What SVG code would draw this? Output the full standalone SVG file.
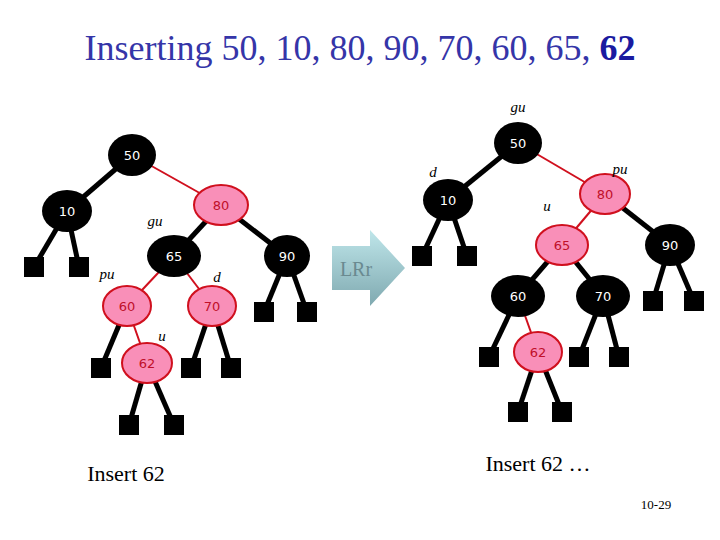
<svg xmlns="http://www.w3.org/2000/svg" width="720" height="540" viewBox="0 0 720 540">
<style>
.b{fill:#000}
.r{fill:#f98fb8;stroke:#d0101e;stroke-width:2}
.nt{font-family:"DejaVu Sans",sans-serif;font-size:13px;text-anchor:middle;dominant-baseline:central}
.bt{fill:#fff}.rt{fill:#c0102a}
.k{stroke:#000;stroke-width:5}
.e{stroke:#d0101e;stroke-width:2}
.lf{fill:#000}
.lb{font-family:"Liberation Serif",serif;font-style:italic;font-size:15px;text-anchor:middle}
.cap{font-family:"Liberation Serif",serif;font-size:22px;text-anchor:middle}
</style>
<defs><linearGradient id="ag" x1="0" y1="0" x2="0" y2="1"><stop offset="0" stop-color="#bfe6ea"/><stop offset="1" stop-color="#7fa9b0"/></linearGradient></defs>
<text x="360" y="60" font-family="Liberation Serif,serif" font-size="36" text-anchor="middle" fill="#3535a8">Inserting 50, 10, 80, 90, 70, 60, 65, <tspan font-weight="bold" fill="#1a1aa0">62</tspan></text>
<g id="connectors">
<line class="k" x1="132" y1="155" x2="67" y2="211"/><line class="e" x1="132" y1="155" x2="221" y2="205"/>
<line class="k" x1="67" y1="211" x2="34" y2="267"/><line class="k" x1="67" y1="211" x2="79" y2="267"/>
<line class="k" x1="221" y1="205" x2="174" y2="256"/><line class="k" x1="221" y1="205" x2="287" y2="256"/>
<line class="e" x1="174" y1="256" x2="127" y2="306"/><line class="e" x1="174" y1="256" x2="212" y2="306"/>
<line class="k" x1="287" y1="256" x2="264" y2="312"/><line class="k" x1="287" y1="256" x2="307" y2="312"/>
<line class="k" x1="127" y1="306" x2="101" y2="368"/><line class="e" x1="127" y1="306" x2="147" y2="363"/>
<line class="k" x1="212" y1="306" x2="191" y2="368"/><line class="k" x1="212" y1="306" x2="231" y2="368"/>
<line class="k" x1="147" y1="363" x2="129" y2="425"/><line class="k" x1="147" y1="363" x2="174" y2="425"/>
<line class="k" x1="518" y1="143" x2="448" y2="200"/><line class="e" x1="518" y1="143" x2="605" y2="194"/>
<line class="k" x1="448" y1="200" x2="422" y2="256"/><line class="k" x1="448" y1="200" x2="467" y2="256"/>
<line class="e" x1="605" y1="194" x2="562" y2="245"/><line class="k" x1="605" y1="194" x2="670" y2="245"/>
<line class="k" x1="562" y1="245" x2="518" y2="296"/><line class="k" x1="562" y1="245" x2="603" y2="296"/>
<line class="k" x1="670" y1="245" x2="653" y2="301"/><line class="k" x1="670" y1="245" x2="694" y2="301"/>
<line class="k" x1="518" y1="296" x2="489" y2="357"/><line class="e" x1="518" y1="296" x2="538" y2="352"/>
<line class="k" x1="603" y1="296" x2="579" y2="357"/><line class="k" x1="603" y1="296" x2="619" y2="357"/>
<line class="k" x1="538" y1="352" x2="518" y2="412"/><line class="k" x1="538" y1="352" x2="562" y2="412"/>
</g>
<g id="leaves">
<rect class="lf" x="24" y="257" width="20" height="20"/><rect class="lf" x="69" y="257" width="20" height="20"/>
<rect class="lf" x="254" y="302" width="20" height="20"/><rect class="lf" x="297" y="302" width="20" height="20"/>
<rect class="lf" x="91" y="358" width="20" height="20"/><rect class="lf" x="181" y="358" width="20" height="20"/><rect class="lf" x="221" y="358" width="20" height="20"/>
<rect class="lf" x="119" y="415" width="20" height="20"/><rect class="lf" x="164" y="415" width="20" height="20"/>
<rect class="lf" x="412" y="246" width="20" height="20"/><rect class="lf" x="457" y="246" width="20" height="20"/>
<rect class="lf" x="643" y="291" width="20" height="20"/><rect class="lf" x="684" y="291" width="20" height="20"/>
<rect class="lf" x="479" y="347" width="20" height="20"/><rect class="lf" x="569" y="347" width="20" height="20"/><rect class="lf" x="609" y="347" width="20" height="20"/>
<rect class="lf" x="508" y="402" width="20" height="20"/><rect class="lf" x="552" y="402" width="20" height="20"/>
</g>
<g id="L50"><ellipse class="b" cx="132" cy="155" rx="24" ry="21"/><text class="nt bt" x="132" y="155">50</text></g>
<g id="L10"><ellipse class="b" cx="67" cy="211" rx="25" ry="21"/><text class="nt bt" x="67" y="211">10</text></g>
<g id="L80"><ellipse class="r" cx="221" cy="205" rx="27" ry="20"/><text class="nt rt" x="221" y="205">80</text></g>
<g id="L65"><ellipse class="b" cx="174" cy="256" rx="27" ry="21"/><text class="nt bt" x="174" y="256">65</text></g>
<g id="L90"><ellipse class="b" cx="287" cy="256" rx="23" ry="21"/><text class="nt bt" x="287" y="256">90</text></g>
<g id="L60"><ellipse class="r" cx="127" cy="306" rx="24" ry="20"/><text class="nt rt" x="127" y="306">60</text></g>
<g id="L70"><ellipse class="r" cx="212" cy="306" rx="24" ry="20"/><text class="nt rt" x="212" y="306">70</text></g>
<g id="L62"><ellipse class="r" cx="147" cy="363" rx="25" ry="20"/><text class="nt rt" x="147" y="363">62</text></g>
<g id="R50"><ellipse class="b" cx="518" cy="143" rx="24" ry="21"/><text class="nt bt" x="518" y="143">50</text></g>
<g id="R10"><ellipse class="b" cx="448" cy="200" rx="25" ry="21"/><text class="nt bt" x="448" y="200">10</text></g>
<g id="R80"><ellipse class="r" cx="605" cy="194" rx="25" ry="20"/><text class="nt rt" x="605" y="194">80</text></g>
<g id="R65"><ellipse class="r" cx="562" cy="245" rx="26" ry="20"/><text class="nt rt" x="562" y="245">65</text></g>
<g id="R90"><ellipse class="b" cx="670" cy="245" rx="25" ry="21"/><text class="nt bt" x="670" y="245">90</text></g>
<g id="R60"><ellipse class="b" cx="518" cy="296" rx="27" ry="21"/><text class="nt bt" x="518" y="296">60</text></g>
<g id="R70"><ellipse class="b" cx="603" cy="296" rx="27" ry="21"/><text class="nt bt" x="603" y="296">70</text></g>
<g id="R62"><ellipse class="r" cx="538" cy="352" rx="24" ry="20"/><text class="nt rt" x="538" y="352">62</text></g>
<g id="labels">
<text class="lb" x="155" y="226">gu</text><text class="lb" x="107" y="279">pu</text><text class="lb" x="217" y="282">d</text><text class="lb" x="162" y="341">u</text>
<text class="lb" x="518" y="112">gu</text><text class="lb" x="433" y="177">d</text><text class="lb" x="620" y="174">pu</text><text class="lb" x="547" y="211">u</text>
</g>
<g id="arrow">
<polygon points="332,246 370,246 370,230 405,268 370,306 370,290 332,290" fill="url(#ag)"/>
<text x="356" y="276" font-family="Liberation Serif,serif" font-size="20" text-anchor="middle" fill="#6a8a90">LRr</text>
</g>
<text class="cap" x="126" y="481">Insert 62</text>
<text class="cap" x="538" y="471">Insert 62 …</text>
<text x="656" y="509" font-family="Liberation Serif,serif" font-size="13" text-anchor="middle">10-29</text>
</svg>
